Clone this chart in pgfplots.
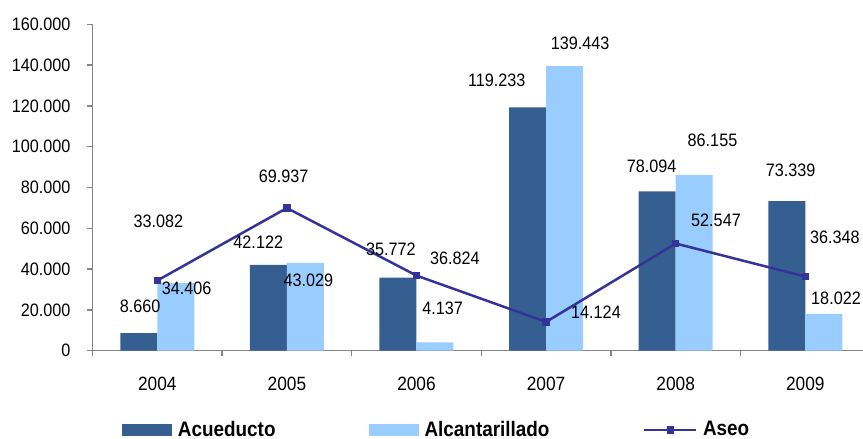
\documentclass[border=0pt]{standalone}
\usepackage{fontspec}
\setmainfont{Liberation Sans}[FakeStretch=0.9]
\usepackage{pgfplots}
\pgfplotsset{compat=1.18}
\definecolor{acu}{RGB}{54,95,145}
\definecolor{alc}{RGB}{153,204,255}
\definecolor{aseo}{RGB}{51,51,153}
\definecolor{axgray}{RGB}{134,134,134}

\begin{document}
\begin{tikzpicture}
\begin{axis}[
  at={(0,0)}, anchor=south west,
  scale only axis, width=388.8pt, height=163.2pt,
  xmin=-0.5, xmax=5.5, ymin=0, ymax=160000,
  clip=false,
  axis x line*=bottom, axis y line*=left,
  axis line style={draw=axgray, line width=0.7pt},
  tick style={draw=axgray, line width=0.7pt},
  tick align=outside, major tick length=2.5pt,
  xtick={-0.5,0.5,1.5,2.5,3.5,4.5,5.5},
  xticklabels={,,,,,,},
  extra x ticks={0,1,2,3,4,5},
  extra x tick labels={2004,2005,2006,2007,2008,2009},
  extra x tick style={major tick length=0pt},
  ytick={0,20000,40000,60000,80000,100000,120000,140000,160000},
  scaled y ticks=false,
  /pgf/number format/assume math mode=true,
  /pgf/number format/fixed,
  /pgf/number format/precision=0,
  /pgf/number format/1000 sep={.},
  ticklabel style={font=\fontsize{9}{10}\selectfont},
  yticklabel style={xshift=-5pt},
  xticklabel style={yshift=-9.5pt, font=\fontsize{9.6}{10}\selectfont},
  legend columns=3,
  legend style={draw=none, fill=none, inner sep=0pt,
    at={(0,0)}, anchor=west, xshift=14.75pt, yshift=-39.65pt,
    font=\fontsize{10.5}{12}\selectfont\bfseries,
    nodes={inner xsep=2.75pt},
    /tikz/every even column/.append style={column sep=44pt}},
]
\addplot[ybar, bar width=18.5pt, bar shift=-9.25pt, fill=acu, draw=none,
  legend image code/.code={\fill[acu] (0pt,-3pt) rectangle (25pt,3pt);}]
  coordinates {(0,8660) (1,42122) (2,35772) (3,119233) (4,78094) (5,73339)};
\addlegendentry{Acueducto}
\addplot[ybar, bar width=18.5pt, bar shift=9.25pt, fill=alc, draw=none,
  legend image code/.code={\fill[alc] (0pt,-3pt) rectangle (25pt,3pt);}]
  coordinates {(0,33082) (1,43029) (2,4137) (3,139443) (4,86155) (5,18022)};
\addlegendentry{Alcantarillado}
\addplot[sharp plot, draw=aseo, line width=1.25pt, mark=square*,
  mark size=1.2pt, mark options={fill=aseo, draw=aseo},
  legend image code/.code={\draw[aseo, line width=1.25pt] (0pt,0pt) -- (26pt,0pt);
    \fill[aseo] (11.8pt,-1.2pt) rectangle (14.2pt,1.2pt);}]
  coordinates {(0,34406) (1,69937) (2,36824) (3,14124) (4,52547) (5,36348)};
\addlegendentry{Aseo}

\begin{scope}[every node/.style={font=\fontsize{9}{10}\selectfont, inner sep=0pt}]
\node at (axis cs:0.008,63200) {33.082};
\node at (axis cs:-0.133,21900) {8.660};
\node at (axis cs:0.227,30600) {34.406};
\node at (axis cs:0.975,85600) {69.937};
\node at (axis cs:0.779,53400) {42.122};
\node at (axis cs:1.165,34300) {43.029};
\node at (axis cs:1.803,49700) {35.772};
\node at (axis cs:2.297,45300) {36.824};
\node at (axis cs:2.202,20800) {4.137};
\node at (axis cs:2.619,132700) {119.233};
\node at (axis cs:3.262,150700) {139.443};
\node at (axis cs:3.385,19100) {14.124};
\node at (axis cs:3.815,90500) {78.094};
\node at (axis cs:4.284,103300) {86.155};
\node at (axis cs:4.311,64100) {52.547};
\node at (axis cs:4.887,88200) {73.339};
\node at (axis cs:5.229,55600) {36.348};
\node at (axis cs:5.237,25700) {18.022};
\end{scope}
\end{axis}
\pgfresetboundingbox
\path (-46.25pt,-44.15pt) rectangle (385.25pt,175.35pt);
\end{tikzpicture}
\end{document}
